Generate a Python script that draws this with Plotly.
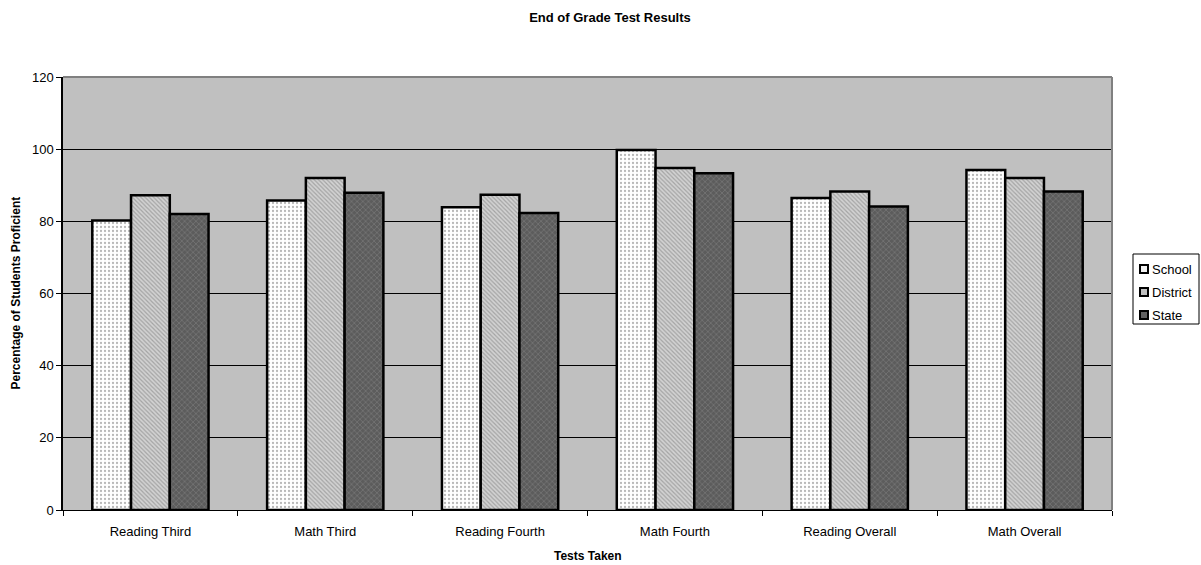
import plotly.graph_objects as go

# Test categories and proficiency percentages
categories = ["Reading Third", "Math Third", "Reading Fourth",
              "Math Fourth", "Reading Overall", "Math Overall"]
school = [80.2, 85.8, 83.9, 99.8, 86.5, 94.2]
district = [87.2, 92.0, 87.4, 94.8, 88.3, 92.0]
state = [82.0, 87.9, 82.3, 93.3, 84.1, 88.3]
series_names = ["School", "District", "State"]
y_ticks = [0, 20, 40, 60, 80, 100, 120]

FONT = "Liberation Sans, Arial, sans-serif"

styles = [
    dict(bg="#ffffff", fg="#b8b8b8", shape=".", size=4, solidity=0.25, swatch="#f0f0f0"),
    dict(bg="#d2d2d2", fg="#a4a4a4", shape="\\", size=3, solidity=0.4, swatch="#c0c0c0"),
    dict(bg="#5c5c5c", fg="#7a7a7a", shape="x", size=4, solidity=0.3, swatch="#606060"),
]

fig = go.Figure()
for name, vals, st in zip(series_names, [school, district, state], styles):
    fig.add_trace(go.Bar(
        x=categories, y=vals, name=name, showlegend=False,
        marker=dict(
            color=st["bg"],
            line=dict(color="#000000", width=2.5),
            pattern=dict(shape=st["shape"], fgcolor=st["fg"], bgcolor=st["bg"],
                         size=st["size"], solidity=st["solidity"], fillmode="replace"),
        ),
    ))

# Plot geometry in pixels (used for legend and axis-title placement)
W, H = 1201, 565
L, R, T, B = 63, 89, 77, 55
pw, ph = W - L - R, H - T - B


def px_x(x):
    return (x - L) / pw


def px_y(y):
    return (H - B - y) / ph


shapes = [
    # top and right frame of the plot area
    dict(type="line", xref="paper", yref="paper", x0=0, x1=1, y0=1, y1=1,
         line=dict(color="#808080", width=2)),
    dict(type="line", xref="paper", yref="paper", x0=1, x1=1, y0=0, y1=1,
         line=dict(color="#808080", width=2)),
    # legend box
    dict(type="rect", xref="paper", yref="paper",
         x0=px_x(1133), x1=px_x(1199), y0=px_y(254), y1=px_y(324),
         line=dict(color="#000000", width=1), fillcolor="#ffffff"),
]
annotations = [
    dict(xref="paper", yref="paper", x=0.5, y=px_y(556),
         text="<b>Tests Taken</b>", showarrow=False,
         xanchor="center", yanchor="middle",
         font=dict(family=FONT, size=12, color="#000000")),
    dict(xref="paper", yref="paper", x=px_x(15), y=0.5,
         text="<b>Percentage of Students Proficient</b>", showarrow=False,
         textangle=-90, xanchor="center", yanchor="middle",
         font=dict(family=FONT, size=12, color="#000000")),
]
legend_rows = [269, 292, 315]
for name, st, yc in zip(series_names, styles, legend_rows):
    shapes.append(dict(type="rect", xref="paper", yref="paper",
                       x0=px_x(1140), x1=px_x(1148), y0=px_y(yc - 4), y1=px_y(yc + 4),
                       line=dict(color="#000000", width=2), fillcolor=st["swatch"]))
    annotations.append(dict(xref="paper", yref="paper", x=px_x(1150), y=px_y(yc),
                            text=name, showarrow=False, xanchor="left", yanchor="middle",
                            font=dict(family=FONT, size=13, color="#000000")))

fig.update_layout(
    width=W, height=H,
    margin=dict(l=L, r=R, t=T, b=B),
    paper_bgcolor="#ffffff",
    plot_bgcolor="#c0c0c0",
    barmode="group",
    bargap=0.335,
    bargroupgap=0,
    font=dict(family=FONT, size=13, color="#000000"),
    title=dict(text="<b>End of Grade Test Results</b>", xref="container",
               x=610 / W, xanchor="center",
               y=1 - 17 / H, yanchor="middle",
               font=dict(family=FONT, size=13, color="#000000")),
    shapes=shapes,
    annotations=annotations,
)
fig.update_xaxes(
    type="category", automargin=False,
    showline=True, linecolor="#000000", linewidth=1,
    ticks="outside", tickson="boundaries", ticklen=5, tickcolor="#000000",
    ticklabelstandoff=9,
    showgrid=False,
    tickfont=dict(family=FONT, size=13),
)
fig.update_yaxes(
    range=[0, 120], tickvals=y_ticks, automargin=False,
    showline=True, linecolor="#000000", linewidth=1.5,
    ticks="outside", ticklen=5, tickcolor="#000000",
    showgrid=True, gridcolor="#000000", gridwidth=1,
    zeroline=False,
    tickfont=dict(family=FONT, size=13),
)

fig.write_html("out.html")
